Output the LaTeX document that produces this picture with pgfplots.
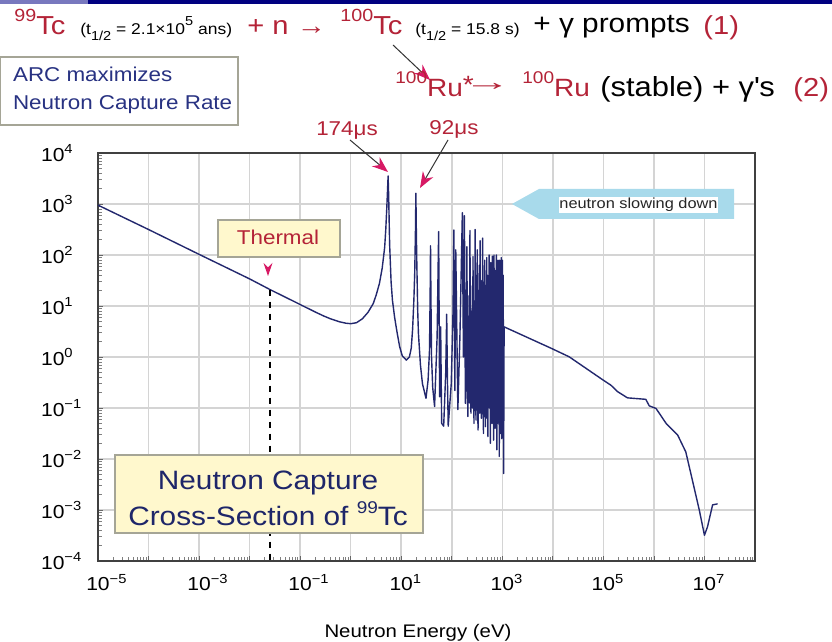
\documentclass[border=0pt]{standalone}
\usepackage{graphicx}
\usepackage{pgfplots}
\pgfplotsset{compat=1.18}
\usepackage{fontspec}
\setmainfont[FakeStretch=1.12]{Liberation Sans}
\usetikzlibrary{arrows.meta}
\definecolor{tcred}{RGB}{180,35,55}
\definecolor{curvenavy}{RGB}{35,40,110}
\definecolor{textnavy}{RGB}{40,50,130}
\definecolor{boxnavy}{RGB}{30,38,105}
\definecolor{arrowpink}{RGB}{215,25,100}
\definecolor{boxyellow}{RGB}{255,248,205}
\definecolor{boxedge}{RGB}{165,165,150}
\definecolor{slowblue}{RGB}{168,218,235}
\definecolor{barnavy}{RGB}{0,0,128}
\definecolor{barlight}{RGB}{120,120,190}
\definecolor{gridgray}{RGB}{212,212,212}
\newcommand{\sps}[3]{\raisebox{#2}{\fontsize{#1}{#1}\selectfont #3}}
\newcommand{\xl}[1]{10\rlap{\textsuperscript{#1}}}
\newcommand{\yl}[1]{10\textsuperscript{#1}}
\begin{document}
\begin{tikzpicture}
\path[use as bounding box] (0,0) rectangle (416pt,321pt);
\fill[white] (0,0) rectangle (416pt,321pt);

\begin{axis}[
  at={(49pt,40.5pt)}, anchor=south west, scale only axis,
  width=328.5pt, height=204pt,
  xmode=log, ymode=log,
  xmin=1e-5, xmax=1e8, ymin=1e-4, ymax=1e4,
  xtick={1e-5,1e-4,1e-3,1e-2,1e-1,1,1e1,1e2,1e3,1e4,1e5,1e6,1e7,1e8},
  xticklabels={\xl{−5},{},\xl{−3},{},\xl{−1},{},\xl{1},{},\xl{3},{},\xl{5},{},\xl{7},{}},
  ytick={1e-4,1e-3,1e-2,1e-1,1,1e1,1e2,1e3,1e4},
  yticklabels={\yl{−4},\yl{−3},\yl{−2},\yl{−1},\yl{0},\yl{1},\yl{2},\yl{3},\yl{4}},
  ticklabel style={font=\fontsize{9.4}{11}\selectfont},
  yticklabel style={anchor=west, xshift=-32pt},
  xticklabel style={yshift=-3pt},
  xtick pos=bottom, ytick pos=left,
  tick align=inside,
  major tick length=2.5pt, minor tick length=1.8pt,
  major tick style={black!60, line width=0.4pt},
  minor tick style={black!50, line width=0.35pt},
  grid=major,
  major grid style={gridgray, line width=0.8pt},
  axis line style={black!75, line width=0.9pt},
  clip=true,
]
\addplot[curvenavy, line width=0.7pt, line join=round] coordinates {
(1e-5,950) (1e-4,316) (1e-3,103) (1e-2,34) (0.0253,21) (0.1,10.7) (0.2,7.6) (0.3,6.3) (0.4,5.6)
(0.6,4.9) (0.8,4.6) (1.0,4.5) (1.3,4.7) (1.7,5.6) (2.2,7.5) (2.8,11.2) (3.2,16.5) (3.7,27.5)
(4.2,55) (4.7,140) (4.95,320) (5.2,912) (5.35,1800) (5.5,3550) (5.65,1400) (5.75,562)
(5.9,160) (6.3,30) (6.7,13) (7.4,6.0) (8.2,3.2) (9.3,1.6) (10.5,1.05) (12.6,0.87) (14.5,1.0)
(15.8,1.5) (16.8,3.5) (17.8,13.2) (18.5,45) (19.1,269) (19.5,1620) (19.9,300) (20.4,60)
(21.2,8) (21.9,2.9) (24,0.7) (26.3,0.30) (30.9,0.155) (34,0.35) (36.3,1.38) (37.4,20) (38.0,151)
(38.7,15) (39.8,1.0) (42,0.25) (45.7,0.107) (51.3,2.5) (55.0,288) (57.5,0.166) (60.3,3.9)
(63.1,0.050) (69.2,0.044) (76,0.5) (79.4,6.9) (82,0.4) (85.1,0.044) (97.7,0.30) (106,8)
(110,309) (115,0.22) (120,126) (132,0.093) (145,2.5) (162,676) (170,1.0) (178,589)
(186,0.123) (192,0.3)
(199.5,145) (204.2,0.316) (208.0,0.068) (211.8,6.3) (215.8,0.25) (219.8,15.8) (224.9,0.126)
(229.1,302) (234.4,0.316) (239.9,0.079) (245.5,7.9) (250.0,0.2) (254.7,25) (259.4,0.1)
(263.0,93) (269.2,0.5) (275.4,0.05) (281.8,12.6) (285.8,0.158) (289.7,316) (295.1,0.25)
(302.0,0.058) (307.6,40) (313.3,0.316) (319.2,126) (325.1,0.126) (331.1,0.037) (338.8,20)
(345.1,0.2) (351.6,63) (358.1,0.079) (364.8,191) (371.5,0.158) (378.4,7.9) (385.5,0.063)
(392.6,31.6) (399.9,0.25) (409.3,214) (416.9,0.1) (424.6,0.0316) (432.5,15.8) (440.6,0.126)
(448.7,79) (457.1,0.4) (465.6,0.043) (474.2,25) (483.1,0.158) (492.0,89) (501.2,0.063)
(510.5,40) (520.0,0.0275) (529.7,15.8) (539.5,0.2) (549.5,100) (559.8,0.1) (570.2,20)
(580.8,0.0204) (591.6,71) (602.6,0.25) (613.8,31.6) (625.2,0.05) (636.8,95) (648.6,0.079)
(660.7,25) (673.0,0.0234) (685.5,100) (698.2,0.126) (711.2,50) (724.4,0.04) (737.9,15.8)
(751.6,0.158) (765.6,100) (779.8,0.0151) (794.3,40) (809.1,0.05) (824.1,79) (839.5,0.1)
(855.1,31.6) (871.0,0.0112) (887.2,79) (903.6,0.063) (920.4,50) (937.6,0.0316) (955.0,89)
(977.2,0.025) (1000,79) (1023,0.04) (1042,40) (1062,0.0052) (1086,3.9)
(9.3e3,1.48) (2.1e4,1.01) (9.8e4,0.355) (1.41e5,0.28) (1.9e5,0.21) (3.0e5,0.158) (6.9e5,0.148)
(8.1e5,0.11) (1.1e6,0.098) (1.74e6,0.050) (2.95e6,0.0295) (4.27e6,0.0138) (5.75e6,0.0039)
(7.9e6,0.001) (1.0e7,0.00032) (1.15e7,0.00047) (1.45e7,0.00126) (1.82e7,0.00132)
};
\addplot[black, dashed, line width=0.6pt] coordinates {(0.0253,21) (0.0253,1e-4)};
\end{axis}

\begin{scope}[x=0.5pt,y=0.5pt]
\fill[barnavy] (0,638) rectangle (832,642);
\fill[barlight] (0,638) rectangle (88,642);

% x label
\node[anchor=base, font=\fontsize{9.1}{11}\selectfont] at (418,4) {Neutron Energy (eV)};

% ARC box
\draw[boxedge, fill=white, line width=0.6pt] (0,585) rectangle (238,517);
\node[anchor=base west, textnavy, font=\fontsize{10}{12}\selectfont] at (6,560) {ARC maximizes};
\node[anchor=base west, textnavy, font=\fontsize{10}{12}\selectfont] at (6,532) {Neutron Capture Rate};

% Thermal box
\draw[boxedge, fill=boxyellow, line width=0.6pt] (218,422) rectangle (340,385);
\node[anchor=base, tcred, font=\fontsize{10}{12}\selectfont] at (278,397) {Thermal};
\fill[arrowpink] (268,366) -- (263.5,379) -- (268,374.5) -- (272.5,379) -- cycle;

% big title box
\draw[boxedge, fill=boxyellow, line width=0.6pt] (115,187) rectangle (423,109);
\node[anchor=base, boxnavy, font=\fontsize{13.3}{16}\selectfont] at (268,152) {Neutron Capture};
\node[anchor=base, boxnavy, font=\fontsize{13.3}{16}\selectfont] at (268,116) {Cross-Section of \sps{8.5}{6pt}{99}Tc};

% neutron slowing down arrow
\fill[slowblue] (512,438) -- (539,453) -- (734,453) -- (734,423) -- (539,423) -- cycle;
\fill[white] (559,445) rectangle (718,429);
\node[font=\fontsize{7.3}{9}\selectfont, black!85] at (638.5,437) {neutron slowing down};

% resonance labels
\node[anchor=base, tcred, font=\fontsize{10}{12}\selectfont] at (347,506) {174μs};
\node[anchor=base, tcred, font=\fontsize{10}{12}\selectfont] at (454,507) {92μs};
\draw[black!80, line width=0.5pt, -{Stealth[length=8pt, width=6pt, color=arrowpink]}] (350,502) -- (388,470);
\draw[black!80, line width=0.5pt, -{Stealth[length=8pt, width=6pt, color=arrowpink]}] (448,502) -- (420,454);
\draw[black!80, line width=0.5pt, -{Stealth[length=8pt, width=6pt, color=arrowpink]}] (393,597) -- (430,562);

% reaction line 1
\node[anchor=base west, tcred, font=\fontsize{13}{15}\selectfont, inner sep=0pt] at (14,607) {\sps{8.8}{6.5pt}{99}Tc};
\node[anchor=base west, font=\fontsize{7.8}{9}\selectfont, inner sep=0pt] at (80,607) {(t\raisebox{-3pt}{\fontsize{6.5}{7}\selectfont 1/2} = 2.1×10\sps{6.5}{4.5pt}{5} ans)};
\node[anchor=base west, tcred, font=\fontsize{13}{15}\selectfont, inner sep=0pt] at (247,607) {+ n →};
\node[anchor=base west, tcred, font=\fontsize{13}{15}\selectfont, inner sep=0pt] at (340,607) {\sps{8.8}{6.5pt}{100}Tc};
\node[anchor=base west, font=\fontsize{7.8}{9}\selectfont, inner sep=0pt] at (415,607) {(t\raisebox{-3pt}{\fontsize{6.5}{7}\selectfont 1/2} = 15.8 s)};
\node[anchor=base west, font=\fontsize{13.3}{15}\selectfont, inner sep=0pt] at (533,609) {+ γ prompts};
\node[anchor=base west, tcred, font=\fontsize{13}{15}\selectfont, inner sep=0pt] at (703,607) {(1)};

% reaction line 2
\node[anchor=base west, tcred, font=\fontsize{12.5}{15}\selectfont, inner sep=0pt] at (395,545) {\sps{8.5}{6.5pt}{100}Ru\raisebox{1.5pt}{*}};
\node[anchor=base west, tcred, font=\fontsize{12.5}{15}\selectfont, inner sep=0pt] at (463,551) {\scalebox{1.7}[1]{→}};
\node[anchor=base west, tcred, font=\fontsize{12.5}{15}\selectfont, inner sep=0pt] at (522,545) {\sps{8.5}{6.5pt}{100}Ru};
\node[anchor=base west, font=\fontsize{13.8}{15}\selectfont, inner sep=0pt] at (600,545) {(stable) + γ\textquotesingle s};
\node[anchor=base west, tcred, font=\fontsize{13}{15}\selectfont, inner sep=0pt] at (793,545) {(2)};
\end{scope}
\end{tikzpicture}
\end{document}
